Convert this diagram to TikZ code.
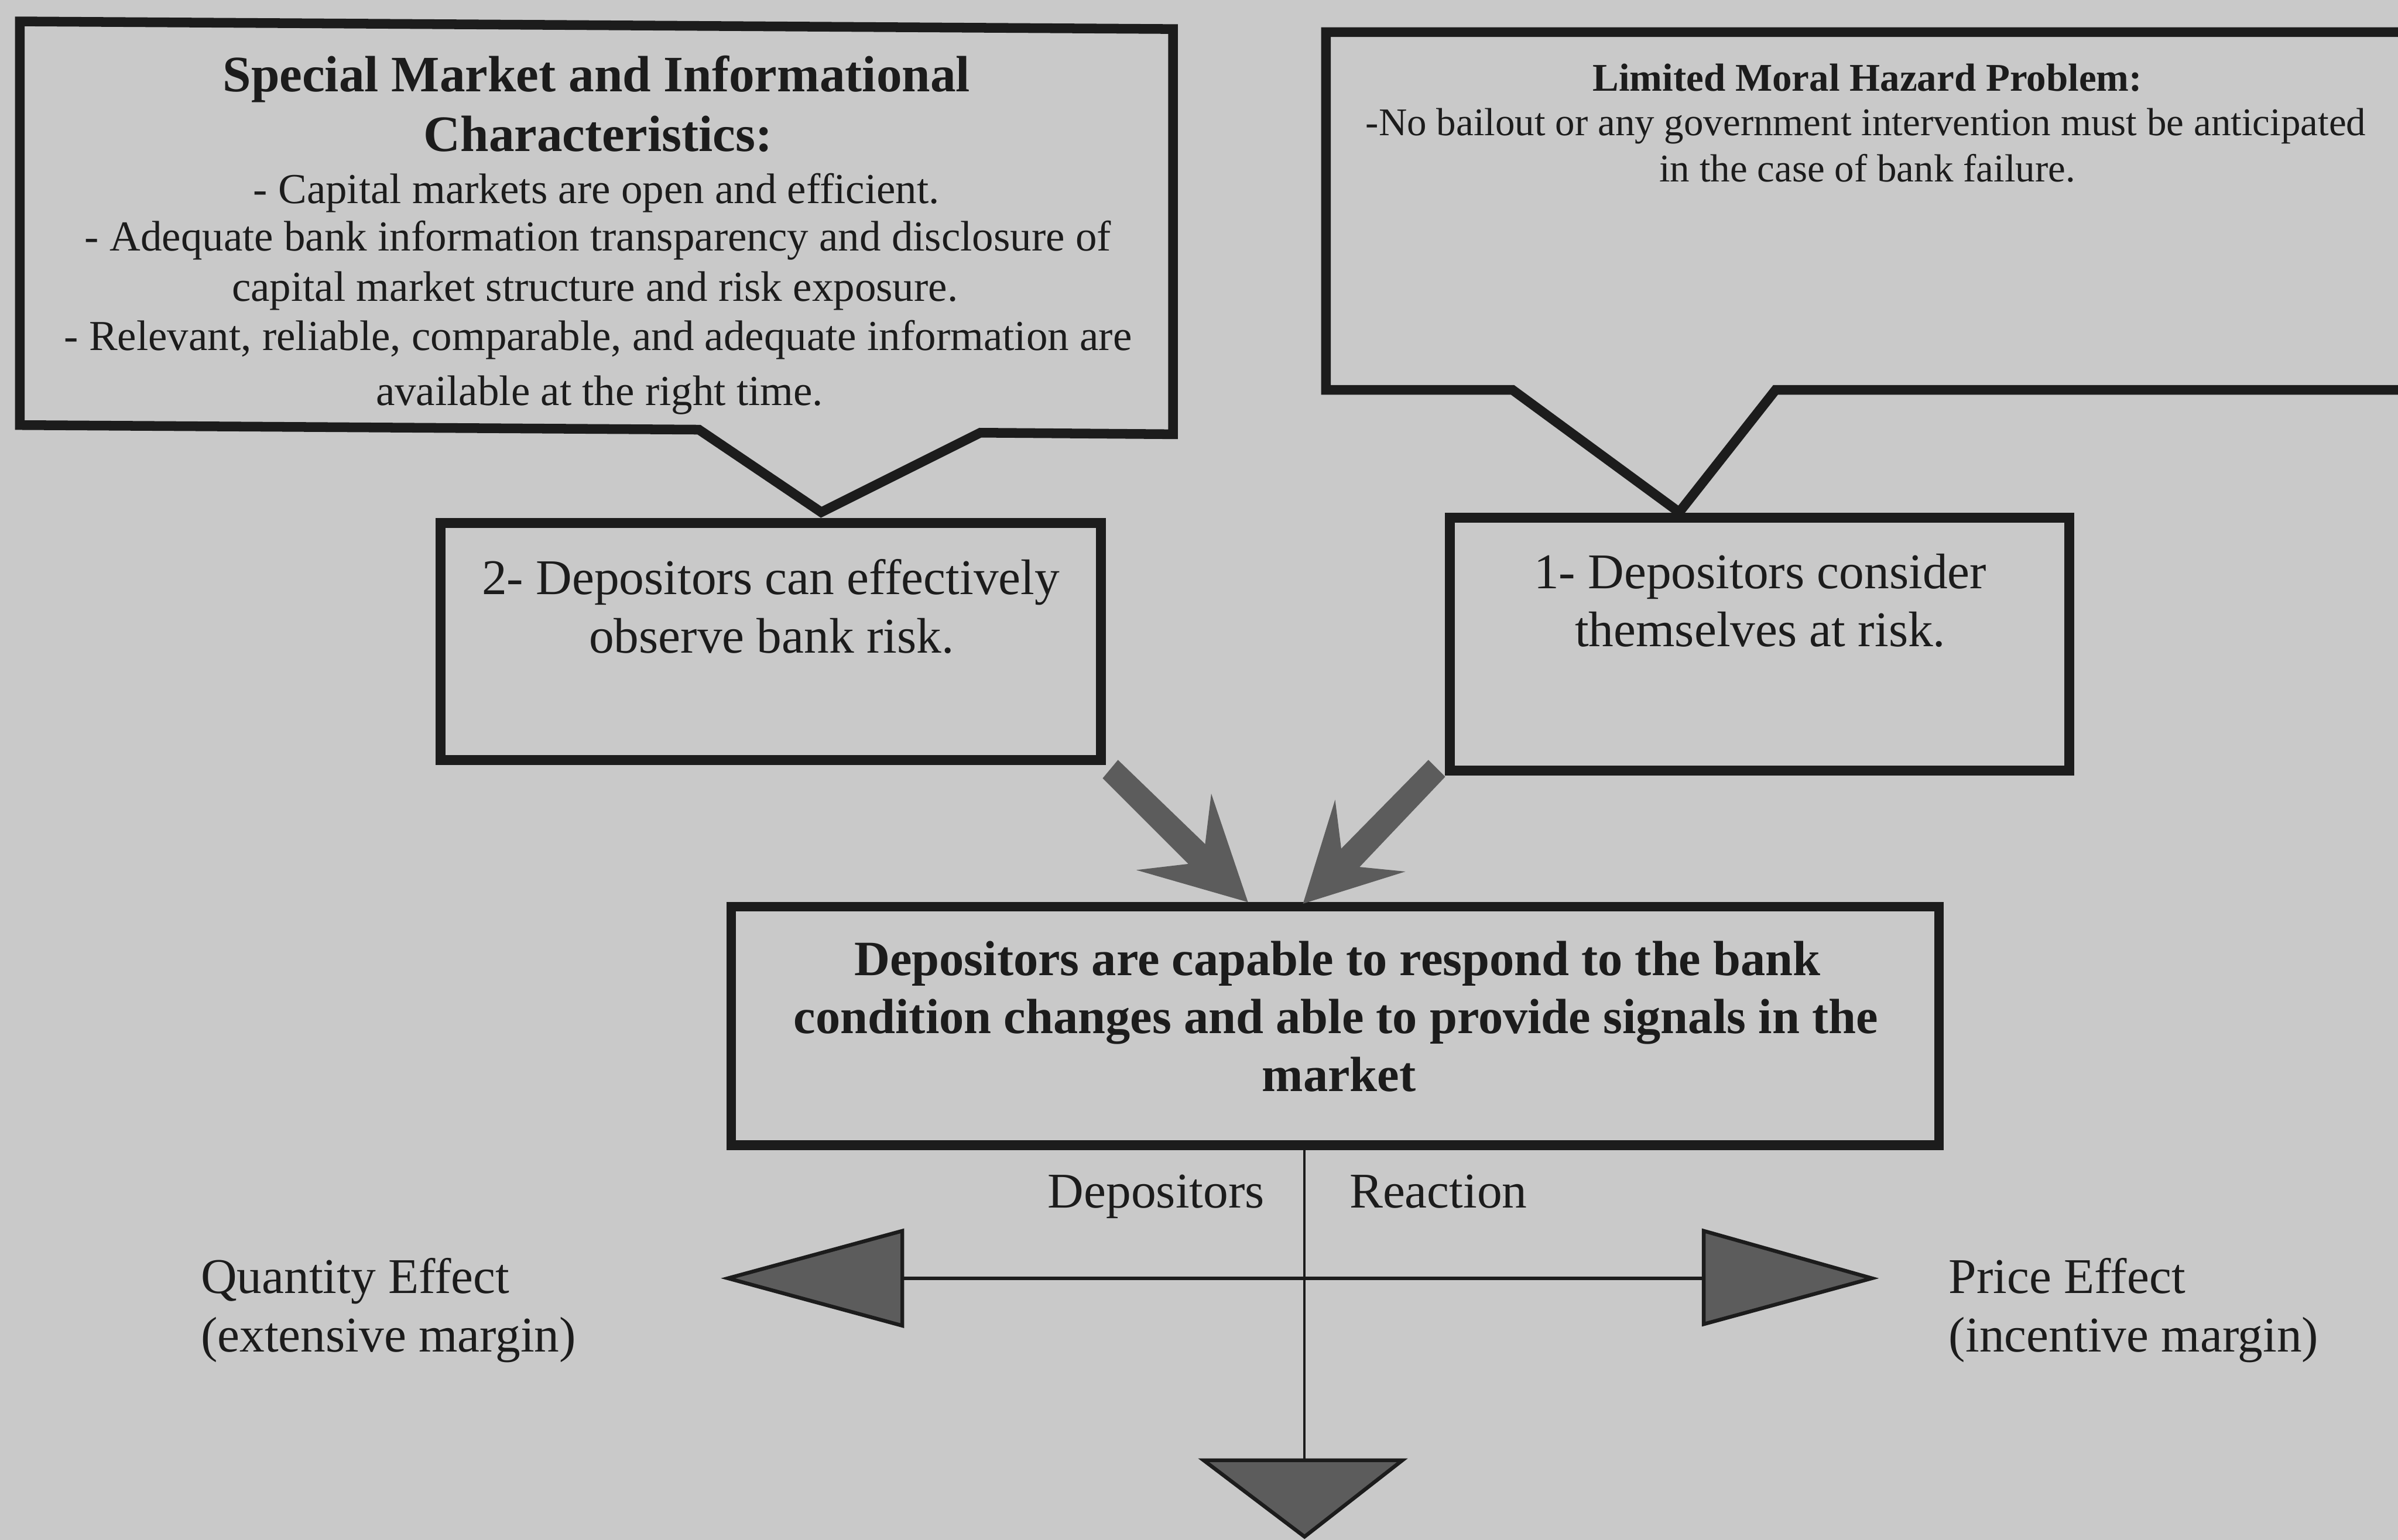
\documentclass[tikz,border=0pt]{standalone}
\usepackage{fontspec}
\setmainfont{Liberation Serif}
\definecolor{bg}{RGB}{201,201,201}
\definecolor{ink}{RGB}{28,28,28}
\definecolor{fillg}{RGB}{92,92,92}
\begin{document}
\begin{tikzpicture}[x=0.02cm,y=-0.02cm,
  boxst/.style={draw=ink, line width=3.6pt, rectangle, inner sep=0pt},
  callst/.style={draw=ink, line width=3.6pt, line join=miter},
  txt/.style={inner sep=0pt, anchor=base, text=ink},
  ttl/.style={txt, font=\fontsize{19}{22}\selectfont\bfseries},
  bodyL/.style={txt, font=\fontsize{15.9}{18}\selectfont},
  ttlR/.style={txt, font=\fontsize{14.6}{17}\selectfont\bfseries},
  bodyR/.style={txt, font=\fontsize{14.6}{17}\selectfont},
  lbl/.style={txt, font=\fontsize{18.6}{22}\selectfont},
  mainf/.style={txt, font=\fontsize{18.4}{21}\selectfont\bfseries},
  fat/.style={fill=fillg, draw=none},
  tri/.style={fill=fillg, draw=ink, line width=1.4pt, line join=miter}]
\fill[bg] (0,0) rectangle (1568,1007);
\useasboundingbox (0,0) rectangle (1568,1007);

% left callout
\draw[callst] (13,14) -- (767,19) -- (767,284) -- (641,283) -- (537,335) -- (457,281) -- (13,278) -- cycle;
\node[ttl] (l1) at (390,60) {Special Market and Informational};
\node[ttl] (l2) at (391,99) {Characteristics:};
\node[bodyL] (l3) at (390,133) {- Capital markets are open and efficient.};
\node[bodyL] (l4) at (391,164) {- Adequate bank information transparency and disclosure of};
\node[bodyL] (l5) at (389,197) {capital market structure and risk exposure.};
\node[bodyL] (l6) at (391,229) {- Relevant, reliable, comparable, and adequate information are};
\node[bodyL] (l7) at (392,265) {available at the right time.};

% right callout
\draw[callst] (1580,21) -- (867,21) -- (867,255) -- (989,255) -- (1098,335) -- (1161,255) -- (1580,255);
\node[ttlR] (r1) at (1221,59.5) {Limited Moral Hazard Problem:};
\node[bodyR] (r2) at (1220,88.7) {-No bailout or any government intervention must be anticipated};
\node[bodyR] (r3) at (1221,118.7) {in the case of bank failure.};

% boxes
\node[boxst, minimum width=8.64cm, minimum height=3.1cm] (b2) at (504,419.5) {};
\node[lbl] (b2a) at (504,388.6) {2- Depositors can effectively};
\node[lbl] (b2b) at (504.5,427) {observe bank risk.};

\node[boxst, minimum width=8.1cm, minimum height=3.31cm] (b1) at (1150.5,421.3) {};
\node[lbl] (b1a) at (1151,385) {1- Depositors consider};
\node[lbl] (b1b) at (1151,423) {themselves at risk.};

\node[boxst, minimum width=15.8cm, minimum height=3.12cm] (mn) at (873,671) {};
\node[mainf] (m1) at (874.5,638) {Depositors are capable to respond to the bank};
\node[mainf] (m2) at (873.5,676) {condition changes and able to provide signals in the};
\node[mainf] (m3) at (875.5,713.6) {market};

% fat arrows
\fill[fat] (721,509) -- (731,497) -- (788,552) -- (792,519) -- (816,590) -- (743,569) -- (777,565) -- cycle;
\fill[fat] (934,497) -- (945,508) -- (889,567) -- (919,570) -- (852,591) -- (873,523) -- (877,555) -- cycle;

% reaction cross
\coordinate (vtop) at (853,752);
\coordinate (vbot) at (853,955);
\coordinate (hl) at (590,836);
\coordinate (hr) at (1114,836);
\draw[ink, line width=0.9pt] (vtop) -- (vbot);
\draw[ink, line width=1.3pt] (hl) -- (hr);
\draw[tri] (590,805) -- (476,836) -- (590,867) -- cycle;
\draw[tri] (1114,805) -- (1224,836) -- (1114,866) -- cycle;
\draw[tri] (787,955) -- (917,955) -- (853,1005) -- cycle;

\node[lbl] (dep) at (756,790) {Depositors};
\node[lbl] (rea) at (940.5,790) {Reaction};
\node[lbl, anchor=base west] (q1) at (131,846) {Quantity Effect};
\node[lbl, anchor=base west] (q2) at (131,884) {(extensive margin)};
\node[lbl, anchor=base west] (p1) at (1274,846) {Price Effect};
\node[lbl, anchor=base west] (p2) at (1274,884) {(incentive margin)};
\end{tikzpicture}
\end{document}
